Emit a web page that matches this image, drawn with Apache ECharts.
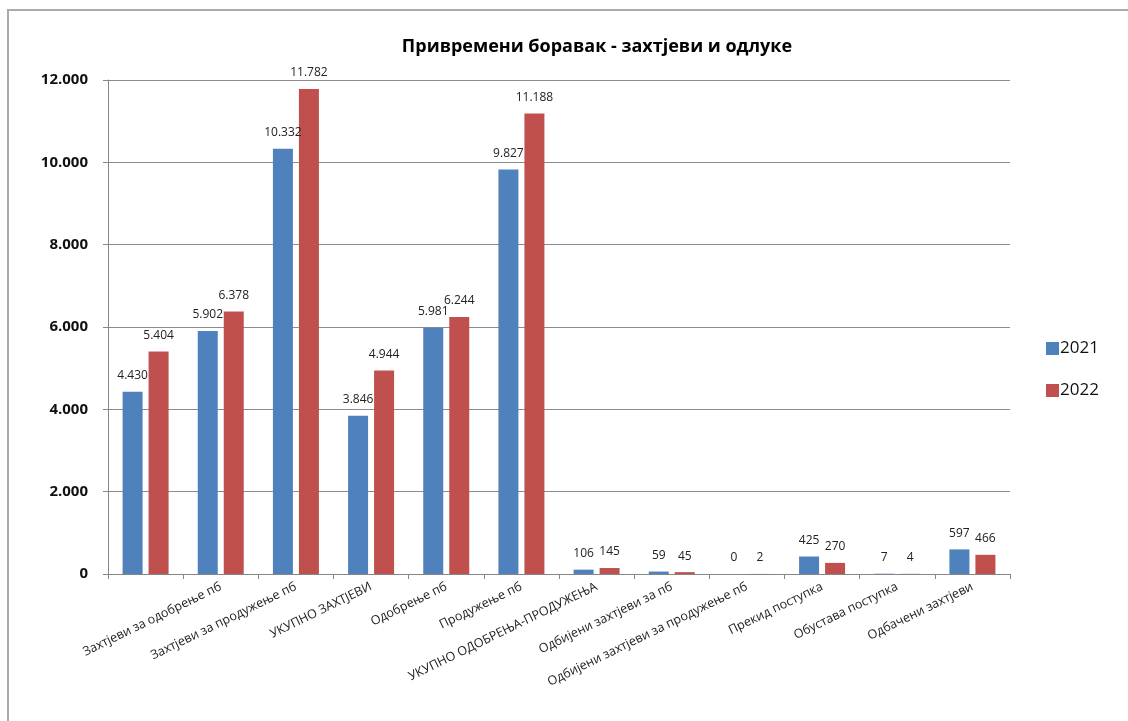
<!DOCTYPE html>
<html>
<head>
<meta charset="utf-8">
<script src="https://cdn.jsdelivr.net/npm/echarts@6/dist/echarts.min.js"></script>
<style>
html,body{margin:0;padding:0;background:#fff;}
#chart{width:1128px;height:721px;}
</style>
</head>
<body>
<div id="chart"></div>
<script>
const titleText = 'Привремени боравак - захтјеви и одлуке';
const categories = [
  'Захтјеви за одобрење пб',
  'Захтјеви за продужење пб',
  'УКУПНО ЗАХТЈЕВИ',
  'Одобрење пб',
  'Продужење пб',
  'УКУПНО ОДОБРЕЊА-ПРОДУЖЕЊА',
  'Одбијени захтјеви за пб',
  'Одбијени захтјеви за продужење пб',
  'Прекид поступка',
  'Обустава поступка',
  'Одбачени захтјеви',
  ''
];
const seriesNames = ['2021', '2022'];
const values2021 = [4430, 5902, 10332, 3846, 5981, 9827, 106, 59, 0, 425, 7, 597];
const values2022 = [5404, 6378, 11782, 4944, 6244, 11188, 145, 45, 2, 270, 4, 466];
const yTicks = [0, 2000, 4000, 6000, 8000, 10000, 12000];

function fmt(n){
  return String(n).replace(/\B(?=(\d{3})+(?!\d))/g, '.');
}

const FONT = '"Open Sans", "Noto Sans", sans-serif';
const chart = echarts.init(document.getElementById('chart'));
const labelStyle = {
  show: true, position: 'top', distance: 10,
  fontSize: 12, color: '#222', fontFamily: FONT,
  formatter: p => fmt(p.value)
};
chart.setOption({
  animation: false,
  backgroundColor: '#fff',
  textStyle: {fontFamily: FONT},
  title: {
    text: titleText, left: 592, top: 33, textAlign: 'center',
    textStyle: {fontSize: 18, fontWeight: 'bold', color: '#000', fontFamily: FONT}
  },
  graphic: [{
    type: 'rect', shape: {x: 8, y: 10, width: 1200, height: 800},
    style: {fill: 'none', stroke: '#ababab', lineWidth: 2}, silent: true
  }],
  legend: {
    orient: 'vertical', left: 1041, top: 335, itemGap: 25,
    itemWidth: 13, itemHeight: 13, icon: 'rect',
    textStyle: {fontSize: 17, color: '#111', fontFamily: FONT, padding: [0,0,0,-4]},
    data: seriesNames
  },
  grid: {left: 108, right: 118, top: 80, bottom: 147, containLabel: false},
  xAxis: {
    type: 'category', data: categories,
    axisLine: {lineStyle: {color: '#868686', width: 1}},
    axisTick: {show: true, alignWithLabel: false, length: 5, lineStyle: {color: '#868686'}},
    axisLabel: {
      interval: 0, rotate: 26, margin: 12, fontSize: 12.5, color: '#222', fontFamily: FONT,
      formatter: (v, i) => i === 0 ? '' : categories[i - 1]
    }
  },
  yAxis: {
    type: 'value', min: yTicks[0], max: yTicks[yTicks.length-1], interval: 2000,
    axisLine: {show: true, lineStyle: {color: '#868686'}},
    axisTick: {show: true, length: 5, lineStyle: {color: '#868686'}},
    splitLine: {lineStyle: {color: '#8c8c8c', width: 1}},
    axisLabel: {fontSize: 15, fontWeight: 'bold', color: '#111', margin: 20, fontFamily: FONT,
      formatter: v => fmt(v)}
  },
  series: [
    {name: seriesNames[0], type: 'bar', data: values2021, barWidth: 20, barGap: '30%',
     itemStyle: {color: '#4F81BD'}, label: labelStyle},
    {name: seriesNames[1], type: 'bar', data: values2022, barWidth: 20, barGap: '30%',
     itemStyle: {color: '#C0504D'}, label: labelStyle}
  ]
});
</script>
</body>
</html>
